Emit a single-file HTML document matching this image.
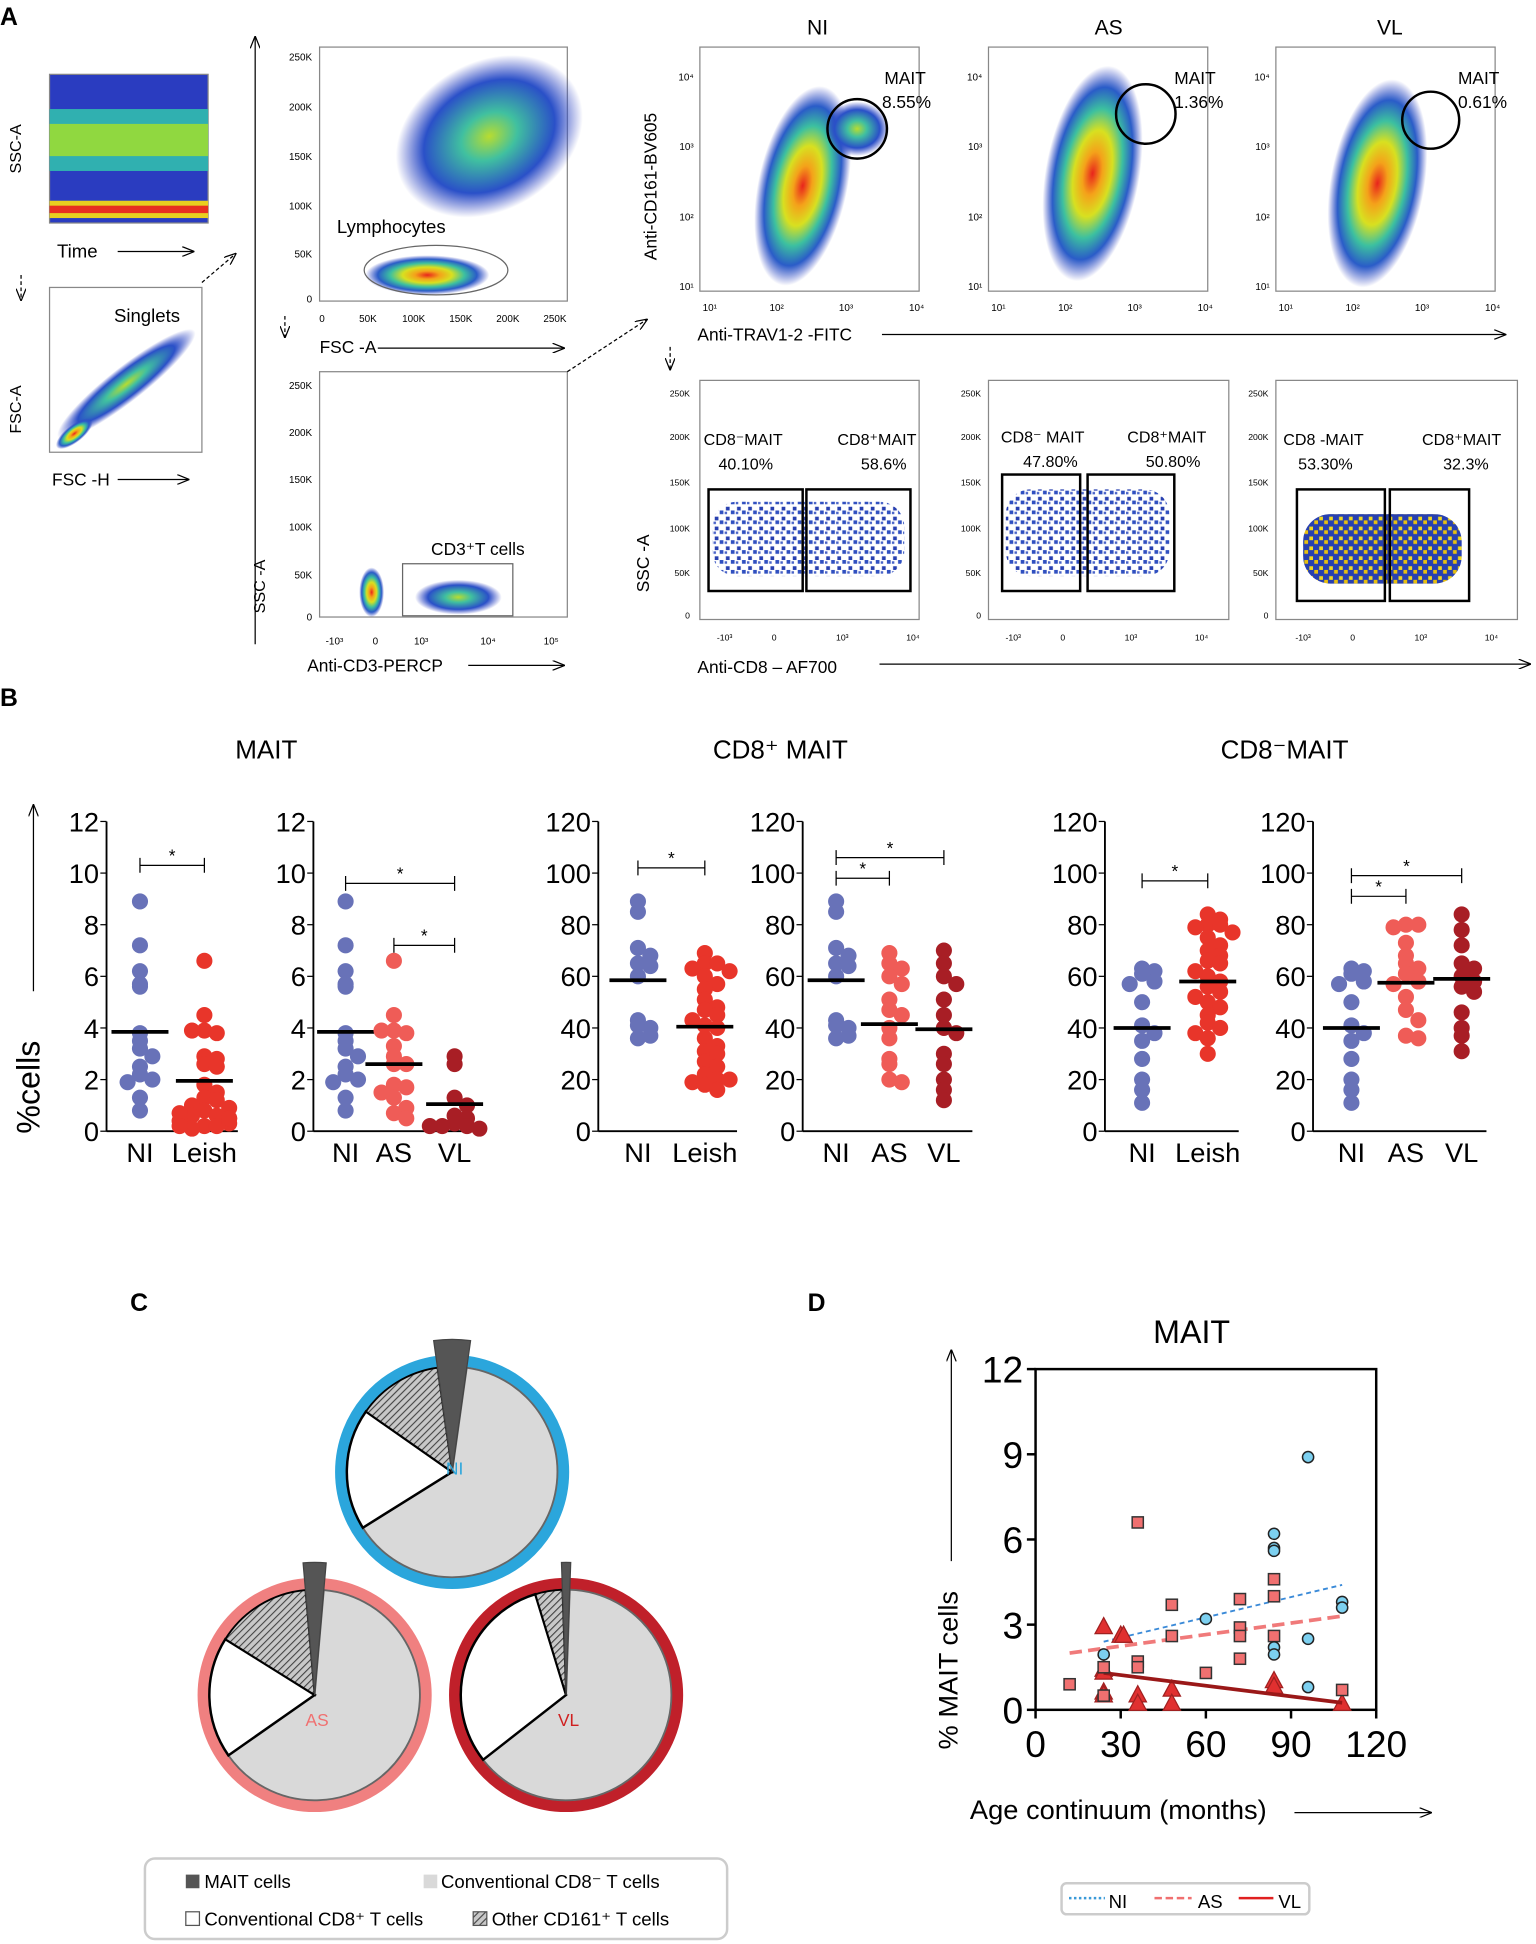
<!DOCTYPE html>
<html><head><meta charset="utf-8"><style>
html,body{margin:0;padding:0;background:#fff}
svg{display:block;font-family:"Liberation Sans",sans-serif}
</style></head><body>
<svg id="fig" width="1536" height="1944" viewBox="0 0 1240 1569" preserveAspectRatio="none" xmlns="http://www.w3.org/2000/svg">
<defs>
<radialGradient id="dens" cx="50%" cy="50%" r="50%">
<stop offset="0" stop-color="#e8241c"/><stop offset="0.2" stop-color="#f4a21a"/><stop offset="0.4" stop-color="#d8e020"/><stop offset="0.6" stop-color="#3cc0a0"/><stop offset="0.8" stop-color="#2a5cc8"/><stop offset="1" stop-color="#3040c0" stop-opacity="0"/></radialGradient>
<radialGradient id="densb" cx="50%" cy="50%" r="50%">
<stop offset="0" stop-color="#b8dc30"/><stop offset="0.3" stop-color="#40c0a0"/><stop offset="0.7" stop-color="#2a50c8"/><stop offset="1" stop-color="#3040c0" stop-opacity="0"/></radialGradient>
<pattern id="dots" width="9" height="8" patternUnits="userSpaceOnUse"><rect x="1" y="1" width="3" height="3" fill="#2840b0"/><rect x="5" y="4" width="3" height="3" fill="#3050c0"/><rect x="0" y="5" width="2" height="2" fill="#4a64c8"/></pattern>
<pattern id="dotsy" width="8" height="8" patternUnits="userSpaceOnUse"><rect width="8" height="8" fill="#2840b0"/><rect x="1" y="1" width="3" height="3" fill="#f0d820"/><rect x="5" y="4" width="3" height="3" fill="#e8c010"/></pattern>
<pattern id="hatch" width="4" height="4" patternUnits="userSpaceOnUse" patternTransform="rotate(45)"><rect width="4" height="4" fill="#c8c8c8"/><line x1="0" y1="0" x2="0" y2="4" stroke="#444" stroke-width="1.8"/></pattern>
<marker id="ah" markerWidth="10" markerHeight="8" refX="9" refY="4" orient="auto"><path d="M0,0 L10,4 L0,8" fill="none" stroke="#000" stroke-width="1"/></marker>
</defs>

<!-- PANEL A -->
<g font-size="12">
<text x="0" y="20" font-size="20" font-weight="bold">A</text>
<g>
<rect x="40" y="60" width="128" height="120" fill="#2a3cc0" stroke="#888"/>
<rect x="40" y="88" width="128" height="50" fill="#30b0b0"/>
<rect x="40" y="100" width="128" height="26" fill="#90d840"/>
<rect x="40" y="162" width="128" height="14" fill="#e8d020"/><rect x="40" y="166" width="128" height="6" fill="#e83020"/>
<text x="17" y="140" transform="rotate(-90 17 140)" font-size="13">SSC-A</text>
<text x="46" y="208" font-size="15">Time</text>
<line x1="95" y1="203" x2="156" y2="203" stroke="#000" marker-end="url(#ah)"/>
<line x1="17" y1="222" x2="17" y2="242" stroke="#000" stroke-dasharray="3,2" marker-end="url(#ah)"/>
</g>
<g>
<rect x="40" y="232" width="123" height="133" fill="#fff" stroke="#888"/>
<ellipse cx="102" cy="310" rx="70" ry="14" transform="rotate(-38 102 310)" fill="url(#densb)"/>
<ellipse cx="60" cy="350" rx="18" ry="7" transform="rotate(-38 60 350)" fill="url(#dens)"/>
<text x="92" y="260" font-size="15">Singlets</text>
<text x="17" y="350" transform="rotate(-90 17 350)" font-size="13">FSC-A</text>
<text x="42" y="392" font-size="14">FSC -H</text>
<line x1="95" y1="387" x2="152" y2="387" stroke="#000" marker-end="url(#ah)"/>
<line x1="163" y1="228" x2="190" y2="205" stroke="#000" stroke-dasharray="3,2" marker-end="url(#ah)"/>
</g>
<line x1="206" y1="520" x2="206" y2="30" stroke="#000" marker-end="url(#ah)"/>
<g font-size="8">
<rect x="258" y="38" width="200" height="205" fill="#fff" stroke="#888"/>
<ellipse cx="395" cy="110" rx="80" ry="60" transform="rotate(-30 395 110)" fill="url(#densb)"/>
<ellipse cx="345" cy="222" rx="50" ry="16" fill="url(#dens)"/>
<ellipse cx="352" cy="218" rx="58" ry="20" fill="none" stroke="#666"/>
<text x="272" y="188" font-size="15">Lymphocytes</text>
<g text-anchor="end"><text x="252" y="49">250K</text><text x="252" y="89">200K</text><text x="252" y="129">150K</text><text x="252" y="169">100K</text><text x="252" y="208">50K</text><text x="252" y="244">0</text></g>
<g text-anchor="middle"><text x="260" y="260">0</text><text x="297" y="260">50K</text><text x="334" y="260">100K</text><text x="372" y="260">150K</text><text x="410" y="260">200K</text><text x="448" y="260">250K</text></g>
<text x="258" y="285" font-size="14">FSC -A</text>
<line x1="305" y1="281" x2="455" y2="281" stroke="#000" marker-end="url(#ah)"/>
<line x1="230" y1="255" x2="230" y2="272" stroke="#000" stroke-dasharray="3,2" marker-end="url(#ah)"/>
</g>
<g font-size="8">
<rect x="258" y="300" width="200" height="198" fill="#fff" stroke="#888"/>
<ellipse cx="300" cy="478" rx="10" ry="20" fill="url(#dens)"/>
<ellipse cx="370" cy="482" rx="35" ry="14" fill="url(#densb)"/>
<rect x="325" y="455" width="89" height="42" fill="none" stroke="#666"/>
<text x="348" y="448" font-size="14">CD3⁺T cells</text>
<g text-anchor="end"><text x="252" y="314">250K</text><text x="252" y="352">200K</text><text x="252" y="390">150K</text><text x="252" y="428">100K</text><text x="252" y="467">50K</text><text x="252" y="501">0</text></g>
<g text-anchor="middle"><text x="270" y="520">-10³</text><text x="303" y="520">0</text><text x="340" y="520">10³</text><text x="394" y="520">10⁴</text><text x="445" y="520">10⁵</text></g>
<text x="214" y="495" transform="rotate(-90 214 495)" font-size="13">SSC -A</text>
<text x="248" y="542" font-size="14">Anti-CD3-PERCP</text>
<line x1="378" y1="537" x2="455" y2="537" stroke="#000" marker-end="url(#ah)"/>
<line x1="458" y1="300" x2="522" y2="258" stroke="#000" stroke-dasharray="3,2" marker-end="url(#ah)"/>
</g>
<g font-size="8">
<text x="660" y="28" font-size="17" text-anchor="middle">NI</text><text x="895" y="28" font-size="17" text-anchor="middle">AS</text><text x="1122" y="28" font-size="17" text-anchor="middle">VL</text>
<rect x="565" y="38" width="177" height="197" fill="#fff" stroke="#888"/>
<rect x="798" y="38" width="177" height="197" fill="#fff" stroke="#888"/>
<rect x="1030" y="38" width="177" height="197" fill="#fff" stroke="#888"/>
<ellipse cx="648" cy="150" rx="36" ry="82" transform="rotate(12 648 150)" fill="url(#dens)"/>
<ellipse cx="692" cy="104" rx="26" ry="22" fill="url(#densb)"/>
<ellipse cx="882" cy="140" rx="38" ry="88" transform="rotate(10 882 140)" fill="url(#dens)"/>
<ellipse cx="1112" cy="148" rx="38" ry="85" transform="rotate(10 1112 148)" fill="url(#dens)"/>
<circle cx="692" cy="104" r="24" fill="none" stroke="#000" stroke-width="2"/>
<circle cx="925" cy="92" r="24" fill="none" stroke="#000" stroke-width="2"/>
<circle cx="1155" cy="97" r="23" fill="none" stroke="#000" stroke-width="2"/>
<g font-size="14"><text x="714" y="68">MAIT</text><text x="712" y="87">8.55%</text><text x="948" y="68">MAIT</text><text x="948" y="87">1.36%</text><text x="1177" y="68">MAIT</text><text x="1177" y="87">0.61%</text></g>
<g text-anchor="end"><text x="560" y="65">10⁴</text><text x="560" y="121">10³</text><text x="560" y="178">10²</text><text x="560" y="234">10¹</text><text x="793" y="65">10⁴</text><text x="793" y="121">10³</text><text x="793" y="178">10²</text><text x="793" y="234">10¹</text><text x="1025" y="65">10⁴</text><text x="1025" y="121">10³</text><text x="1025" y="178">10²</text><text x="1025" y="234">10¹</text></g>
<g text-anchor="middle"><text x="573" y="251">10¹</text><text x="627" y="251">10²</text><text x="683" y="251">10³</text><text x="740" y="251">10⁴</text><text x="806" y="251">10¹</text><text x="860" y="251">10²</text><text x="916" y="251">10³</text><text x="973" y="251">10⁴</text><text x="1038" y="251">10¹</text><text x="1092" y="251">10²</text><text x="1148" y="251">10³</text><text x="1205" y="251">10⁴</text></g>
<text x="530" y="210" transform="rotate(-90 530 210)" font-size="14">Anti-CD161-BV605</text>
<text x="563" y="275" font-size="14">Anti-TRAV1-2 -FITC</text>
<line x1="712" y1="270" x2="1215" y2="270" stroke="#000" marker-end="url(#ah)"/>
<line x1="541" y1="280" x2="541" y2="298" stroke="#000" stroke-dasharray="3,2" marker-end="url(#ah)"/>
</g>
<g font-size="7">
<rect x="565" y="307" width="177" height="193" fill="#fff" stroke="#888"/>
<rect x="798" y="307" width="194" height="193" fill="#fff" stroke="#888"/>
<rect x="1030" y="307" width="195" height="193" fill="#fff" stroke="#888"/>
<rect x="575" y="405" width="155" height="60" rx="20" fill="url(#dots)"/>
<rect x="812" y="395" width="132" height="70" rx="20" fill="url(#dots)"/>
<rect x="1052" y="415" width="128" height="56" rx="22" fill="url(#dotsy)"/>
<g fill="none" stroke="#000" stroke-width="2"><rect x="572" y="395" width="76" height="82"/><rect x="651" y="395" width="84" height="82"/><rect x="809" y="383" width="63" height="94"/><rect x="878" y="383" width="70" height="94"/><rect x="1047" y="395" width="71" height="90"/><rect x="1122" y="395" width="64" height="90"/></g>
<g font-size="13"><text x="568" y="359">CD8⁻MAIT</text><text x="580" y="379">40.10%</text><text x="676" y="359">CD8⁺MAIT</text><text x="695" y="379">58.6%</text>
<text x="808" y="357">CD8⁻ MAIT</text><text x="826" y="377">47.80%</text><text x="910" y="357">CD8⁺MAIT</text><text x="925" y="377">50.80%</text>
<text x="1036" y="359">CD8 -MAIT</text><text x="1048" y="379">53.30%</text><text x="1148" y="359">CD8⁺MAIT</text><text x="1165" y="379">32.3%</text></g>
<g text-anchor="end"><text x="557" y="320">250K</text><text x="557" y="355">200K</text><text x="557" y="392">150K</text><text x="557" y="429">100K</text><text x="557" y="465">50K</text><text x="557" y="499">0</text>
<text x="792" y="320">250K</text><text x="792" y="355">200K</text><text x="792" y="392">150K</text><text x="792" y="429">100K</text><text x="792" y="465">50K</text><text x="792" y="499">0</text>
<text x="1024" y="320">250K</text><text x="1024" y="355">200K</text><text x="1024" y="392">150K</text><text x="1024" y="429">100K</text><text x="1024" y="465">50K</text><text x="1024" y="499">0</text></g>
<g text-anchor="middle"><text x="585" y="517">-10³</text><text x="625" y="517">0</text><text x="680" y="517">10³</text><text x="737" y="517">10⁴</text><text x="818" y="517">-10³</text><text x="858" y="517">0</text><text x="913" y="517">10³</text><text x="970" y="517">10⁴</text><text x="1052" y="517">-10³</text><text x="1092" y="517">0</text><text x="1147" y="517">10³</text><text x="1204" y="517">10⁴</text></g>
<text x="524" y="478" transform="rotate(-90 524 478)" font-size="14">SSC -A</text>
<text x="563" y="543" font-size="14">Anti-CD8 – AF700</text>
<line x1="710" y1="536" x2="1235" y2="536" stroke="#000" marker-end="url(#ah)"/>
</g>
</g>

<!-- PANEL B -->
<g id="panelB">
<text x="0" y="570" font-size="20" font-weight="bold">B</text>
<text x="215" y="612" font-size="21" text-anchor="middle">MAIT</text>
<text x="630" y="612" font-size="21" text-anchor="middle">CD8⁺ MAIT</text>
<text x="1037" y="612" font-size="21" text-anchor="middle">CD8⁻MAIT</text>
<text x="32" y="915" transform="rotate(-90 32 915)" font-size="26">%cells</text>
<line x1="27" y1="800" x2="27" y2="650" stroke="#000" marker-end="url(#ah)"/>
</g>

<!-- PANEL C -->
<g id="panelC">
<text x="105" y="1058" font-size="20" font-weight="bold">C</text>
<g font-size="15">
<rect x="117" y="1500" width="470" height="65" rx="8" fill="#fff" stroke="#ccc" stroke-width="2"/>
<rect x="150" y="1513" width="11" height="11" fill="#555"/><text x="165" y="1524">MAIT cells</text>
<rect x="342" y="1513" width="11" height="11" fill="#d9d9d9"/><text x="356" y="1524">Conventional CD8⁻ T cells</text>
<rect x="150" y="1543" width="11" height="11" fill="#fff" stroke="#555"/><text x="165" y="1554">Conventional CD8⁺ T cells</text>
<rect x="382" y="1543" width="11" height="11" fill="url(#hatch)" stroke="#555"/><text x="397" y="1554">Other CD161⁺ T cells</text>
</g>
</g>

<!-- PANEL D -->
<g id="panelD">
<text x="652" y="1058" font-size="20" font-weight="bold">D</text>
<text x="962" y="1084" font-size="26" text-anchor="middle">MAIT</text>
<text x="773" y="1412" transform="rotate(-90 773 1412)" font-size="22">% MAIT cells</text>
<line x1="768" y1="1260" x2="768" y2="1090" stroke="#000" marker-end="url(#ah)"/>
<text x="783" y="1468" font-size="22">Age continuum (months)</text>
<line x1="1045" y1="1463" x2="1155" y2="1463" stroke="#000" marker-end="url(#ah)"/>
<g font-size="15">
<rect x="857" y="1520" width="200" height="25" rx="4" fill="#fff" stroke="#ccc" stroke-width="2"/>
<line x1="863" y1="1532" x2="892" y2="1532" stroke="#3a9ad8" stroke-width="2" stroke-dasharray="2,2"/><text x="895" y="1540">NI</text>
<line x1="932" y1="1532" x2="962" y2="1532" stroke="#f07070" stroke-width="2" stroke-dasharray="6,3"/><text x="967" y="1540">AS</text>
<line x1="1000" y1="1532" x2="1028" y2="1532" stroke="#e02020" stroke-width="2"/><text x="1032" y="1540">VL</text>
</g>
</g>
</svg>
<script>
const NS='http://www.w3.org/2000/svg';
function mk(tag,attrs,parent,txt){const e=document.createElementNS(NS,tag);for(const k in attrs)e.setAttribute(k,attrs[k]);if(txt!==undefined)e.textContent=txt;parent.appendChild(e);return e;}

// ---------- Panel B data ----------
const bNI_mait=[8.9,7.2,6.2,5.7,5.6,3.8,3.5,3.2,2.9,2.5,2.2,2.0,1.9,1.3,0.8];
const bLeish_mait=[6.6,4.5,3.9,3.8,3.9,2.9,2.8,2.6,2.5,1.8,1.5,1.3,1.2,1.0,0.9,0.8,0.6,0.6,0.5,0.4,0.2,0.2,0.1,0.3,0.5,0.7,0.2];
const bAS_mait=[6.6,4.5,3.9,3.8,3.9,3.3,2.9,2.6,2.6,1.8,1.7,1.5,1.3,0.9,0.7,0.5];
const bVL_mait=[2.9,2.6,1.3,1.0,0.6,0.5,0.3,0.2,0.2,0.1,0.2];
const bNI_cd8p=[89,85,71,68,65,64,60,41,40,43,36,37];
const bLeish_cd8p=[69,65,65,63,62,60,57,55,51,48,47,45,43,41,40,36,33,31,30,27,25,22,20,19,18,16,20];
const bAS_cd8p=[69,65,63,60,57,51,47,45,40,36,28,26,20,19];
const bVL_cd8p=[70,65,60,57,51,45,40,38,30,26,20,16,12];
const bNI_cd8n=[63,62,61,58,57,50,41,38,35,28,20,16,11];
const bLeish_cd8n=[84,82,80,80,79,77,75,72,70,68,66,65,62,60,58,56,54,52,50,48,45,42,40,38,36,30];
const bAS_cd8n=[80,80,79,73,68,65,63,61,58,57,52,47,43,37,36];
const bVL_cd8n=[84,78,72,65,63,60,58,56,54,46,40,37,31];
const bMeans=[[3.85,1.95],[3.85,2.6,1.05],[58.5,40.5],[58.5,41.5,39.5],[40,58],[40,57.5,59]];
const bTicksSmall=[0,2,4,6,8,10,12];
const bTicksLarge=[0,20,40,60,80,100,120];
const bSig=[[[0,1,10.3]],[[0,2,9.6],[1,2,7.2]],[[0,1,102]],[[0,2,106],[0,1,98]],[[0,1,97]],[[0,2,99],[0,1,91]]];

const cols={NI:'#6872b8',Leish:'#e8352a',AS:'#ef5c57',VL:'#a81e25'};
const plots=[
 {ax:86,end:192,max:12,ticks:bTicksSmall,cats:['NI','Leish'],cx:[113,165],data:[bNI_mait,bLeish_mait]},
 {ax:253,end:385,max:12,ticks:bTicksSmall,cats:['NI','AS','VL'],cx:[279,318,367],data:[bNI_mait,bAS_mait,bVL_mait]},
 {ax:483,end:595,max:120,ticks:bTicksLarge,cats:['NI','Leish'],cx:[515,569],data:[bNI_cd8p,bLeish_cd8p]},
 {ax:648,end:785,max:120,ticks:bTicksLarge,cats:['NI','AS','VL'],cx:[675,718,762],data:[bNI_cd8p,bAS_cd8p,bVL_cd8p]},
 {ax:892,end:1000,max:120,ticks:bTicksLarge,cats:['NI','Leish'],cx:[922,975],data:[bNI_cd8n,bLeish_cd8n]},
 {ax:1060,end:1200,max:120,ticks:bTicksLarge,cats:['NI','AS','VL'],cx:[1091,1135,1180],data:[bNI_cd8n,bAS_cd8n,bVL_cd8n]}];
const gB=document.getElementById('panelB');
const Y0=913,Y1=663;
plots.forEach((p,pi)=>{
 const g=mk('g',{},gB);
 
 
 const ys=v=>Y0-(v/p.max)*(Y0-Y1);
 mk('line',{x1:p.ax,y1:Y1,x2:p.ax,y2:Y0,stroke:'#000','stroke-width':1.5},g);
 mk('line',{x1:p.ax,y1:Y0,x2:p.end,y2:Y0,stroke:'#000','stroke-width':1.5},g);
 p.ticks.forEach(t=>{mk('line',{x1:p.ax-5,y1:ys(t),x2:p.ax,y2:ys(t),stroke:'#000'},g);
  const tl=mk('text',{x:p.ax-6,y:ys(t)+8,'font-size':22,'text-anchor':'end'},g,String(t));
  });
 p.cats.forEach((c,ci)=>{
  const cl=mk('text',{x:p.cx[ci],y:938,'font-size':22,'text-anchor':'middle'},g,c);
  
  const vals=p.data[ci];const counts={};
  vals.forEach((v,i)=>{const k=Math.round(ys(v)/10);const n=counts[k]||0;counts[k]=n+1;
   const off=(n%2?1:-1)*Math.ceil(n/2)*10;
   const d=mk('circle',{cx:p.cx[ci]+Math.max(-20,Math.min(20,off)),cy:ys(v),r:6.5,fill:cols[c]},g);
   });
  const m=mk('line',{x1:p.cx[ci]-23,y1:ys(bMeans[pi][ci]),x2:p.cx[ci]+23,y2:ys(bMeans[pi][ci]),stroke:'#000','stroke-width':3},g);
  
 });
 bSig[pi].forEach(s=>{const a=p.cx[s[0]],b=p.cx[s[1]],y=ys(s[2]);
  mk('path',{d:`M${a},${y-6}V${y+6}M${a},${y}H${b}M${b},${y-6}V${y+6}`,stroke:'#000',fill:'none'},g);
  const st=mk('text',{x:(a+b)/2,y:y-3,'font-size':14,'text-anchor':'middle'},g,'*');
  });
});

// ---------- Panel C pies ----------
const pieLabels=['NI','AS','VL'];
const pieMAIT=[[352,8],[355,5],[358,2]];
const pieGray=[[8,238],[5,235],[2,232]];
const pieWhite=[[238,305],[235,302],[232,343]];
const pieHatch=[[305,352],[302,355],[343,358]];
const pieGeom=[{cx:365,cy:1188,ring:'#2ba6dc',lc:'#2ba6dc'},{cx:254,cy:1368,ring:'#f08080',lc:'#f07070'},{cx:457,cy:1368,ring:'#c0202a',lc:'#d02020'}];
const gC=document.getElementById('panelC');
function wedge(cx,cy,r,a1,a2){if(a2<a1)a2+=360;const rad=a=>a*Math.PI/180;
 const x1=cx+r*Math.sin(rad(a1)),y1=cy-r*Math.cos(rad(a1)),x2=cx+r*Math.sin(rad(a2)),y2=cy-r*Math.cos(rad(a2));
 return `M${cx},${cy}L${x1},${y1}A${r},${r} 0 ${a2-a1>180?1:0} 1 ${x2},${y2}Z`;}
pieGeom.forEach((p,i)=>{
 const g=mk('g',{},gC);
 
 
 mk('circle',{cx:p.cx,cy:p.cy,r:90,fill:'none',stroke:p.ring,'stroke-width':9},g);
 const r=85;
 mk('path',{d:wedge(p.cx,p.cy,r,pieGray[i][0],pieGray[i][1]),fill:'#d9d9d9',stroke:'#666','stroke-width':1.5},g);
 mk('path',{d:wedge(p.cx,p.cy,r,pieWhite[i][0],pieWhite[i][1]),fill:'#fff',stroke:'#000','stroke-width':2},g);
 mk('path',{d:wedge(p.cx,p.cy,r,pieHatch[i][0],pieHatch[i][1]),fill:'url(#hatch)',stroke:'#000','stroke-width':1.5},g);
 mk('path',{d:wedge(p.cx,p.cy,r+22,pieMAIT[i][0],pieMAIT[i][1]),fill:'#555',stroke:'#444'},g);
 const t=mk('text',{x:p.cx+2,y:p.cy+(i===0?2:25),'font-size':14,'text-anchor':'middle',fill:p.lc},g,pieLabels[i]);
 
});

// ---------- Panel D scatter ----------
const niAge=[24,60,84,84,84,84,84,96,96,96,108,108];
const niVal=[1.95,3.2,6.2,5.7,5.6,2.2,1.95,8.9,2.5,0.8,3.8,3.6];
const asAge=[12,24,24,36,36,36,48,48,60,72,72,72,72,84,84,84,108];
const asVal=[0.9,1.5,0.5,6.6,1.7,1.5,3.7,2.6,1.3,3.9,2.9,2.6,1.8,4.6,4.0,2.6,0.7];
const vlAge=[24,24,24,24,24,30,31,36,36,48,48,84,84,108];
const vlVal=[2.9,1.4,1.3,0.6,0.5,2.6,2.6,0.5,0.2,0.7,0.2,1.0,0.8,0.2];
const trendNI=[[24,2.4],[108,4.4]];
const trendAS=[[12,2.0],[108,3.3]];
const trendVL=[[24,1.3],[108,0.25]];
const dXTicks=[0,30,60,90,120];
const dYTicks=[0,3,6,9,12];
const gD=document.getElementById('panelD');
const dx=v=>836+v/120*(1111-836), dy=v=>1380-v/12*(1380-1105);
const frame=mk('rect',{x:836,y:1105,width:275,height:275,fill:'none',stroke:'#000','stroke-width':2},gD);

dXTicks.forEach(t=>{mk('line',{x1:dx(t),y1:1380,x2:dx(t),y2:1387,stroke:'#000','stroke-width':2},gD);
 const l=mk('text',{x:dx(t),y:1418,'font-size':30,'text-anchor':'middle'},gD,String(t));
 });
dYTicks.forEach(t=>{mk('line',{x1:829,y1:dy(t),x2:836,y2:dy(t),stroke:'#000','stroke-width':2},gD);
 const l=mk('text',{x:826,y:dy(t)+11,'font-size':30,'text-anchor':'end'},gD,String(t));
 });
function tline(tr,col,w,dash,name){const l=mk('line',{x1:dx(tr[0][0]),y1:dy(tr[0][1]),x2:dx(tr[1][0]),y2:dy(tr[1][1]),stroke:col,'stroke-width':w,'stroke-dasharray':dash},gD);
 }
tline(trendNI,'#3a8ad8',1.5,'4,3','trend-ni');
tline(trendAS,'#f07a7a',3,'10,5','trend-as');
vlAge.forEach((a,i)=>{const x=dx(a),y=dy(vlVal[i]);
 const p=mk('path',{d:`M${x},${y-8}L${x+7},${y+5}L${x-7},${y+5}Z`,fill:'#e03030',stroke:'#a02020'},gD);
 });
tline(trendVL,'#9a1818',3,'none','trend-vl');
asAge.forEach((a,i)=>{const r=mk('rect',{x:dx(a)-4.5,y:dy(asVal[i])-4.5,width:9,height:9,fill:'#f07070',stroke:'#333','stroke-width':1.2},gD);
 });
niAge.forEach((a,i)=>{const c=mk('circle',{cx:dx(a),cy:dy(niVal[i]),r:4.5,fill:'#7cd0f0',stroke:'#222','stroke-width':1.2},gD);
 });
</script>
</body></html>
